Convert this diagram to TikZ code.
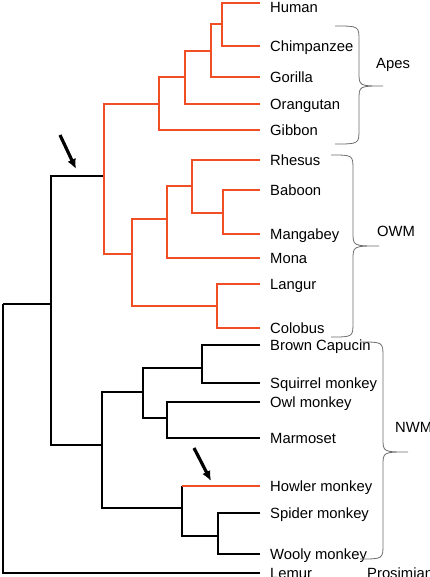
\documentclass[tikz,border=0pt]{standalone}
\usepackage{fontspec}
\setmainfont{Liberation Sans}
\usepackage{tikz}
\usetikzlibrary{arrows.meta,calc}
\definecolor{cladered}{RGB}{242,78,38}
\newcommand{\cladebrace}[6]{%
	\draw[bracket] (#1,#4) .. controls (#2,#4) .. (#2,#4+15) -- (#2,#5-14)
		.. controls (#2,#5) .. (#3,#5) .. controls (#2,#5) .. (#2,#5+14)
		-- (#2,#6-15) .. controls (#2,#6) .. (#1,#6);}

\begin{document}
\begin{tikzpicture}[x=1pt,y=-1pt,
		branch/.style={line width=2.5pt},
		redbranch/.style={branch, cladered},
		taxon/.style={anchor=west, inner sep=0pt, text height=10.6pt, text depth=0pt, font=\fontsize{14.8}{16}\selectfont},
		leaf/.style={taxon, xshift=10pt},
		bracket/.style={line width=0.8pt, gray!85!black},
		pointer/.style={line width=3.2pt, -{Latex[length=10pt,width=9pt]}}]
			\useasboundingbox (0,0) rectangle (430,577);
			\foreach \name/\y/\txt in {human/3/Human, chimp/46/Chimpanzee, gorilla/77/Gorilla, orang/104/Orangutan, gibbon/130/Gibbon, rhesus/160/Rhesus, baboon/190/Baboon, mangabey/234/Mangabey, mona/258/Mona, langur/284/Langur, colobus/328/Colobus, capucin/345/Brown Capucin, squirrel/383/Squirrel monkey, owl/402/Owl monkey, marmoset/438/Marmoset, howler/486/Howler monkey, spider/513/Spider monkey, wooly/554/Wooly monkey, lemur/573/Lemur}
				\coordinate (\name) at (260,\y);
			\foreach \name/\txt in {chimp/Chimpanzee, gorilla/Gorilla, orang/Orangutan, gibbon/Gibbon, rhesus/Rhesus, baboon/Baboon, mangabey/Mangabey, mona/Mona, langur/Langur, colobus/Colobus, capucin/Brown Capucin, squirrel/Squirrel monkey, owl/Owl monkey, marmoset/Marmoset, howler/Howler monkey, spider/Spider monkey, wooly/Wooly monkey, lemur/Lemur}
				\node[leaf] (\name-lbl) at (\name) {\txt};
			\node[leaf, yshift=-4pt] (human-lbl) at (human) {Human};
			\coordinate (hc) at (222,24);
			\coordinate (hcg) at (211,51);
			\coordinate (hcgo) at (185,77);
			\coordinate (apes) at (159,104);
			\coordinate (bm) at (223,213);
			\coordinate (rbm) at (192,186);
			\coordinate (rbmm) at (167,219);
			\coordinate (lc) at (217,306);
			\coordinate (owm) at (132,254);
			\coordinate (catarrh) at (104,176);
			\coordinate (bcsm) at (202,368);
			\coordinate (omma) at (167,418);
			\coordinate (cebid) at (143,392);
			\coordinate (sw) at (218,536);
			\coordinate (hsw) at (182,508);
			\coordinate (nwm) at (102,445);
			\coordinate (anthro) at (51,304);
			\coordinate (root) at (3,304);
			\foreach \p/\c in {bcsm/capucin, bcsm/squirrel, omma/owl, omma/marmoset, cebid/bcsm, cebid/omma, sw/spider, sw/wooly, hsw/sw, nwm/cebid, nwm/hsw, anthro/catarrh, anthro/nwm, root/lemur}
				\draw[branch] (\p) |- (\c);
			\draw[branch] (root) -- (anthro);
			\draw[branch] (hsw) -- (hsw |- howler);
			\draw[redbranch] (hsw |- howler) -- (howler);
			\foreach \p/\c in {hc/human, hc/chimp, hcg/hc, hcg/gorilla, hcgo/hcg, hcgo/orang, apes/hcgo, apes/gibbon, bm/baboon, bm/mangabey, rbm/rhesus, rbm/bm, rbmm/rbm, rbmm/mona, lc/langur, lc/colobus, owm/rbmm, owm/lc, catarrh/apes, catarrh/owm}
				\draw[redbranch] (\p) |- (\c);
			\coordinate (ptrA) at (60,135);
			\coordinate (ptrA-tip) at (76,169);
			\coordinate (ptrB) at (194,448);
			\coordinate (ptrB-tip) at (211,481);
			\draw[pointer] (ptrA) -- (ptrA-tip);
			\draw[pointer] (ptrB) -- (ptrB-tip);
			\cladebrace{335}{359}{383}{26}{86}{144}
			\cladebrace{331}{353}{379}{155}{246}{337}
			\cladebrace{360}{383}{408}{342}{452}{559}
			\node[taxon] (apes-grp) at (376,63.5) {Apes};
			\node[taxon] (owm-grp) at (377,231) {OWM};
			\node[taxon] (nwm-grp) at (395,427) {NWM};
			\node[taxon] (prosimian) at (367,573) {Prosimian};
		\end{tikzpicture}
\end{document}
